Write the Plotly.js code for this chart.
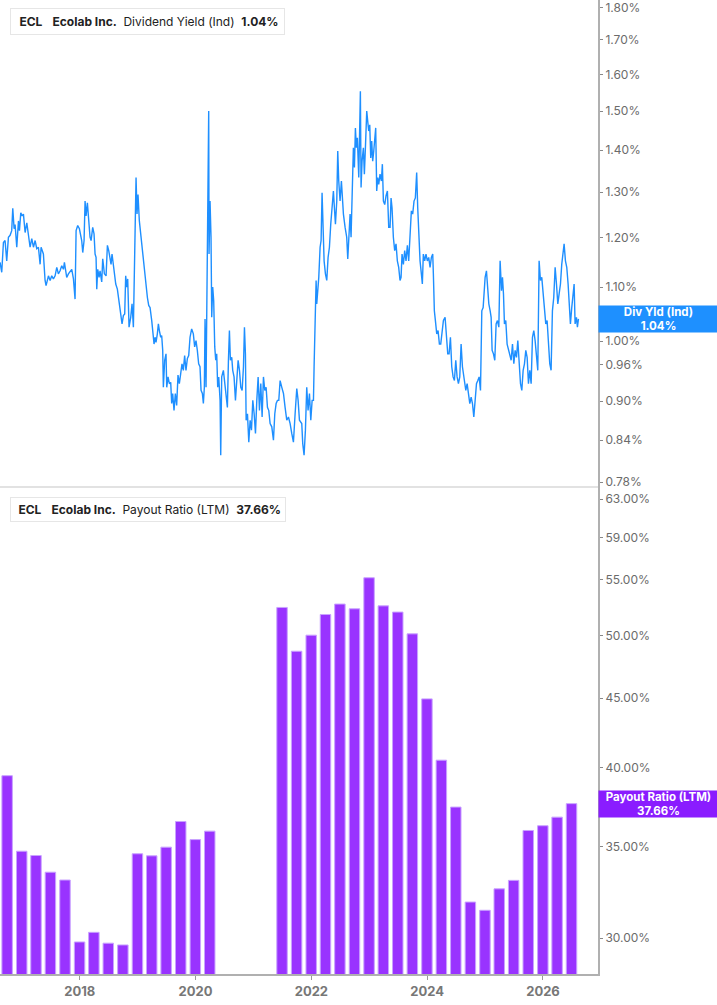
<!DOCTYPE html>
<html>
<head>
<meta charset="utf-8">
<script src="https://cdn.plot.ly/plotly-3.0.1.min.js"></script>
<style>
  html, body { margin: 0; padding: 0; background: #fff; }
  #chart { width: 717px; height: 1005px; }
</style>
</head>
<body>
<div id="chart"></div>
<script>
// ECL dividend yield (indicated), % — time as decimal years
const yieldYears = [
  2016.624, 2016.653, 2016.682, 2016.710, 2016.739, 2016.768, 2016.797, 2016.825, 2016.843, 2016.866,
  2016.883, 2016.912, 2016.941, 2016.958, 2016.981, 2017.004, 2017.027, 2017.056, 2017.085, 2017.113,
  2017.142, 2017.171, 2017.200, 2017.229, 2017.257, 2017.286, 2017.315, 2017.332, 2017.372, 2017.401,
  2017.418, 2017.459, 2017.488, 2017.516, 2017.545, 2017.574, 2017.603, 2017.631, 2017.660, 2017.689,
  2017.718, 2017.735, 2017.758, 2017.775, 2017.804, 2017.833, 2017.862, 2017.891, 2017.919, 2017.937,
  2017.965, 2017.994, 2018.017, 2018.034, 2018.052, 2018.075, 2018.092, 2018.109, 2018.132, 2018.155,
  2018.178, 2018.196, 2018.224, 2018.247, 2018.265, 2018.282, 2018.294, 2018.311, 2018.334, 2018.351,
  2018.380, 2018.397, 2018.426, 2018.455, 2018.478, 2018.501, 2018.524, 2018.541, 2018.558, 2018.581,
  2018.599, 2018.622, 2018.650, 2018.679, 2018.708, 2018.731, 2018.754, 2018.777, 2018.794, 2018.812,
  2018.829, 2018.852, 2018.881, 2018.904, 2018.927, 2018.950, 2018.973, 2018.990, 2019.007, 2019.030,
  2019.053, 2019.076, 2019.100, 2019.123, 2019.140, 2019.169, 2019.192,
  2019.215, 2019.244, 2019.272, 2019.284, 2019.301, 2019.318, 2019.341, 2019.359, 2019.376, 2019.399,
  2019.416, 2019.434, 2019.445, 2019.468, 2019.491, 2019.503, 2019.526, 2019.549, 2019.572, 2019.589,
  2019.606, 2019.629, 2019.652, 2019.675, 2019.698, 2019.721, 2019.744, 2019.767, 2019.790, 2019.813,
  2019.836, 2019.860, 2019.883, 2019.906, 2019.934, 2019.963, 2019.986, 2020.009, 2020.032, 2020.055,
  2020.078, 2020.096, 2020.119, 2020.136, 2020.153, 2020.165, 2020.182, 2020.199, 2020.216, 2020.228,
  2020.234, 2020.251, 2020.268, 2020.280, 2020.297, 2020.314, 2020.332, 2020.349, 2020.366, 2020.383,
  2020.401, 2020.424, 2020.435, 2020.452, 2020.481, 2020.504, 2020.527, 2020.550, 2020.568, 2020.585,
  2020.602, 2020.625, 2020.642, 2020.665, 2020.689, 2020.712, 2020.735, 2020.758, 2020.781, 2020.804,
  2020.827, 2020.844, 2020.861, 2020.873, 2020.896, 2020.919, 2020.942, 2020.965, 2020.988, 2021.011,
  2021.034, 2021.057, 2021.080, 2021.103, 2021.126, 2021.149, 2021.172, 2021.195, 2021.218, 2021.241,
  2021.264, 2021.287, 2021.316, 2021.345, 2021.368, 2021.391, 2021.414, 2021.437, 2021.460, 2021.489,
  2021.518, 2021.546, 2021.575, 2021.604, 2021.633, 2021.661, 2021.690, 2021.719, 2021.748, 2021.771,
  2021.794,
  2021.834, 2021.851, 2021.874, 2021.897, 2021.920, 2021.943, 2021.967, 2021.990, 2022.013, 2022.036,
  2022.047, 2022.064, 2022.082, 2022.093, 2022.110, 2022.128, 2022.151, 2022.168, 2022.185, 2022.203,
  2022.220, 2022.243, 2022.266, 2022.289, 2022.312, 2022.335, 2022.358, 2022.381, 2022.398, 2022.416,
  2022.439, 2022.456, 2022.473, 2022.496, 2022.519, 2022.536, 2022.554, 2022.583, 2022.611, 2022.629,
  2022.652, 2022.669, 2022.686, 2022.703, 2022.726, 2022.744, 2022.761, 2022.778, 2022.795, 2022.819,
  2022.830, 2022.847, 2022.859, 2022.876, 2022.899, 2022.916, 2022.934, 2022.957, 2022.974, 2022.991,
  2023.009, 2023.026, 2023.043, 2023.060, 2023.078, 2023.095, 2023.112, 2023.129, 2023.147, 2023.164,
  2023.187, 2023.210, 2023.227, 2023.245, 2023.268, 2023.291, 2023.314, 2023.337, 2023.360, 2023.377,
  2023.394, 2023.417, 2023.440, 2023.463, 2023.486, 2023.509, 2023.532, 2023.550, 2023.567, 2023.590,
  2023.613, 2023.636, 2023.659, 2023.682, 2023.705, 2023.728, 2023.751, 2023.774, 2023.797, 2023.820,
  2023.838, 2023.855, 2023.878, 2023.901, 2023.918, 2023.935, 2023.958, 2023.981, 2024.004, 2024.028,
  2024.051, 2024.074, 2024.097, 2024.108, 2024.125, 2024.143, 2024.166, 2024.189, 2024.212, 2024.235,
  2024.258, 2024.281,
  2024.310, 2024.338, 2024.356, 2024.379, 2024.402, 2024.425, 2024.448, 2024.471, 2024.494, 2024.517,
  2024.540, 2024.563, 2024.586, 2024.609, 2024.626, 2024.644, 2024.667, 2024.690, 2024.713, 2024.736,
  2024.759, 2024.782, 2024.805, 2024.828, 2024.851, 2024.874, 2024.897, 2024.920, 2024.943, 2024.966,
  2024.983, 2025.000, 2025.023, 2025.041, 2025.064, 2025.087, 2025.104, 2025.121, 2025.144, 2025.167,
  2025.190, 2025.213, 2025.237, 2025.259, 2025.283, 2025.300, 2025.317, 2025.334, 2025.357, 2025.380,
  2025.403, 2025.426, 2025.450, 2025.473, 2025.496, 2025.519, 2025.542, 2025.565, 2025.588, 2025.611,
  2025.634, 2025.657, 2025.680, 2025.703, 2025.726, 2025.749, 2025.772, 2025.795, 2025.818, 2025.841,
  2025.864, 2025.887, 2025.910, 2025.933, 2025.956, 2025.979, 2026.002, 2026.025, 2026.048, 2026.071,
  2026.094, 2026.117, 2026.140, 2026.163, 2026.186, 2026.210, 2026.233, 2026.256, 2026.279, 2026.302,
  2026.324, 2026.348, 2026.365, 2026.388, 2026.411, 2026.434, 2026.457, 2026.474, 2026.497, 2026.520,
  2026.538, 2026.555, 2026.578, 2026.595, 2026.613
];
const yieldPct = [
  1.149, 1.129, 1.190, 1.194, 1.152, 1.201, 1.205, 1.215, 1.264, 1.219,
  1.228, 1.180, 1.236, 1.215, 1.254, 1.247, 1.251, 1.211, 1.232, 1.201,
  1.180, 1.198, 1.180, 1.194, 1.177, 1.180, 1.145, 1.180, 1.166, 1.113,
  1.103, 1.122, 1.113, 1.122, 1.116, 1.122, 1.139, 1.126, 1.132, 1.142,
  1.135, 1.149, 1.126, 1.119, 1.126, 1.132, 1.135, 1.116, 1.077, 1.215,
  1.226, 1.219, 1.208, 1.194, 1.169, 1.194, 1.280, 1.247, 1.276, 1.243,
  1.201, 1.194, 1.222, 1.208, 1.166, 1.159, 1.096, 1.135, 1.119, 1.132,
  1.110, 1.156, 1.126, 1.122, 1.184, 1.173, 1.159, 1.145, 1.166, 1.145,
  1.126, 1.106, 1.096, 1.074, 1.049, 1.031, 1.046, 1.049, 1.122, 1.100,
  1.116, 1.025, 1.043, 1.068, 1.025, 1.194, 1.334, 1.251, 1.295, 1.236,
  1.208, 1.187, 1.156, 1.132, 1.103, 1.080, 1.065,
  1.061, 1.037, 1.013, 0.995, 1.007, 0.998, 1.013, 1.031, 1.019, 1.007,
  1.010, 0.984, 0.922, 0.967, 0.978, 0.922, 0.939, 0.928, 0.930, 0.896,
  0.912, 0.885, 0.912, 0.893, 0.942, 0.928, 0.944, 0.961, 0.950, 0.975,
  0.950, 0.970, 0.975, 1.007, 1.022, 1.013, 0.990, 1.001, 0.984, 0.961,
  0.956, 0.917, 0.912, 0.896, 0.922, 1.040, 0.922, 1.139, 1.201, 1.500,
  1.166, 1.280, 1.201, 1.043, 1.100, 1.074, 0.990, 0.967, 0.978, 0.922,
  0.939, 0.901, 0.818, 0.939, 0.950, 0.928, 0.917, 0.890, 0.967, 1.019,
  0.967, 0.972, 0.950, 0.939, 0.901, 0.933, 0.967, 0.950, 0.922, 0.917,
  0.956, 1.025, 0.978, 0.870, 0.880, 0.837, 0.870, 0.855, 0.901, 0.880,
  0.850, 0.901, 0.939, 0.885, 0.928, 0.875, 0.939, 0.917, 0.922, 0.890,
  0.885, 0.865, 0.860, 0.840, 0.880, 0.896, 0.901, 0.901, 0.933, 0.922,
  0.912, 0.890, 0.870, 0.875, 0.865, 0.850, 0.837, 0.880, 0.920, 0.901,
  0.870,
  0.865, 0.835, 0.818, 0.855, 0.922, 0.885, 0.912, 0.870, 0.901, 0.901,
  0.956, 1.061, 1.113, 1.068, 1.093, 1.119, 1.180, 1.194, 1.299, 1.194,
  1.152, 1.126, 1.113, 1.159, 1.180, 1.229, 1.265, 1.303, 1.265, 1.229,
  1.280, 1.398, 1.326, 1.280, 1.326, 1.287, 1.251, 1.222, 1.201, 1.156,
  1.215, 1.251, 1.201, 1.287, 1.406, 1.358, 1.456, 1.406, 1.431, 1.334,
  1.398, 1.553, 1.311, 1.373, 1.406, 1.342, 1.406, 1.500, 1.473, 1.448,
  1.464, 1.381, 1.423, 1.373, 1.398, 1.423, 1.456, 1.303, 1.334, 1.318,
  1.342, 1.326, 1.366, 1.280, 1.272, 1.292, 1.303, 1.222, 1.222, 1.287,
  1.265, 1.201, 1.173, 1.187, 1.152, 1.139, 1.113, 1.119, 1.166, 1.145,
  1.173, 1.152, 1.184, 1.152, 1.208, 1.258, 1.251, 1.280, 1.287, 1.346,
  1.265, 1.208, 1.152, 1.126, 1.106, 1.166, 1.152, 1.166, 1.152, 1.159,
  1.139, 1.159, 1.166, 1.126, 1.055, 1.037, 1.013, 1.019, 0.995, 0.995,
  1.019, 1.037,
  1.043, 1.007, 0.978, 0.978, 1.007, 0.956, 0.939, 0.933, 0.967, 0.939,
  0.928, 0.939, 0.995, 0.956, 0.944, 0.928, 0.917, 0.928, 0.906, 0.896,
  0.906, 0.896, 0.875, 0.896, 0.928, 0.933, 0.939, 0.917, 1.055, 1.061,
  1.093, 1.119, 1.132, 1.100, 1.068, 1.055, 1.043, 0.984, 0.978, 0.967,
  1.031, 1.037, 1.025, 1.152, 1.093, 1.119, 1.087, 1.031, 1.037, 0.995,
  0.984, 0.978, 0.967, 0.995, 0.961, 0.984, 0.972, 1.001, 0.961, 0.928,
  0.917, 0.950, 0.961, 0.984, 0.972, 0.928, 0.950, 0.928, 1.007, 1.019,
  1.001, 0.972, 0.950, 1.152, 1.113, 1.119, 1.093, 1.068, 1.031, 1.037,
  0.984, 0.961, 0.950, 1.055, 1.080, 1.139, 1.106, 1.068, 1.087, 1.106,
  1.145, 1.173, 1.187, 1.152, 1.139, 1.106, 1.068, 1.031, 1.061, 1.080,
  1.106, 1.031, 1.043, 1.025, 1.040
];

// ECL payout ratio (LTM), % — quarter ends
const payoutDates = [
  '2016-09-30', '2016-12-31', '2017-03-31', '2017-06-30', '2017-09-30', '2017-12-31',
  '2018-03-31', '2018-06-30', '2018-09-30', '2018-12-31', '2019-03-31', '2019-06-30',
  '2019-09-30', '2019-12-31', '2020-03-31',
  '2021-06-30', '2021-09-30', '2021-12-31', '2022-03-31', '2022-06-30', '2022-09-30',
  '2022-12-31', '2023-03-31', '2023-06-30', '2023-09-30', '2023-12-31', '2024-03-31',
  '2024-06-30', '2024-09-30', '2024-12-31', '2025-03-31', '2025-06-30', '2025-09-30',
  '2025-12-31', '2026-03-31', '2026-06-30'
];
const payoutPct = [
  39.48, 34.75, 34.50, 33.54, 33.10, 29.81,
  30.30, 29.75, 29.66, 34.60, 34.48, 34.99,
  36.54, 35.44, 35.95,
  52.46, 48.72, 50.06, 51.84, 52.76, 52.34,
  55.16, 52.60, 52.05, 50.17, 44.95, 40.53,
  37.44, 31.89, 31.45, 32.61, 33.08, 35.99,
  36.28, 36.81, 37.66
];

const yieldTicks = [0.78, 0.84, 0.90, 0.96, 1.00, 1.10, 1.20, 1.30, 1.40, 1.50, 1.60, 1.70, 1.80];
const payoutTicks = [30, 35, 40, 45, 50, 55, 59, 63];
const yearTicks = ['2018', '2020', '2022', '2024', '2026'];

const lastYield = yieldPct[yieldPct.length - 1];
const lastPayout = payoutPct[payoutPct.length - 1];

const BLUE = '#1E8FFF';
const PURPLE = '#9933FF';

function decYearToISO(t) {
  const y = Math.floor(t);
  const a = Date.UTC(y, 0, 1), b = Date.UTC(y + 1, 0, 1);
  return new Date(a + (t - y) * (b - a)).toISOString();
}

// pixel helpers for the boxes in the corner (plot area is 598 x 974)
const PW = 598, PH = 974;
const px = v => v / PW;
const py = v => 1 - v / PH;

const traces = [
  {
    x: yieldYears.map(decYearToISO),
    y: yieldPct,
    type: 'scatter',
    mode: 'lines',
    line: { color: BLUE, width: 1.4 },
    xaxis: 'x',
    yaxis: 'y',
    hoverinfo: 'skip'
  },
  {
    x: payoutDates,
    y: payoutPct,
    type: 'bar',
    width: 66 * 86400000,
    marker: { color: PURPLE, line: { color: '#c9a3ff', width: 1 } },
    xaxis: 'x',
    yaxis: 'y2',
    hoverinfo: 'skip'
  }
];

const axisStyle = {
  side: 'right',
  anchor: 'x',
  type: 'log',
  showline: true,
  linecolor: '#b0b0b0',
  linewidth: 2,
  ticks: 'outside',
  ticklen: 3,
  tickwidth: 1,
  tickcolor: '#888',
  tickfont: { family: 'Inter, sans-serif', size: 12, color: '#6b6b6b' },
  ticklabeloverflow: 'allow',
  showgrid: false,
  zeroline: false,
  fixedrange: true
};

const legendText = (metric, val) =>
  '&nbsp;<b>ECL</b>&nbsp;&nbsp;&nbsp;<b>Ecolab Inc.</b>&nbsp;&nbsp;' + metric + '&nbsp;&nbsp;<b>' + val + '</b>';

const layout = {
  width: 717,
  height: 1005,
  margin: { l: 0, r: 119, t: 0, b: 31 },
  paper_bgcolor: '#fff',
  plot_bgcolor: '#fff',
  showlegend: false,
  font: { family: 'Inter, sans-serif', color: '#222' },
  xaxis: {
    type: 'date',
    anchor: 'y2',
    range: ['2016-08-16', '2026-12-14'],
    showline: true,
    linecolor: '#b0b0b0',
    linewidth: 2,
    ticks: 'outside',
    ticklen: 4,
    tickcolor: '#999',
    tickvals: yearTicks.map(y => y + '-01-01'),
    ticktext: yearTicks,
    tickfont: { family: 'Inter, sans-serif', size: 13, color: '#777', weight: 'bold' },
    showgrid: false,
    zeroline: false,
    fixedrange: true
  },
  yaxis: Object.assign({}, axisStyle, {
    domain: [0.5, 1],
    range: [Math.log10(0.7735), Math.log10(1.824)],
    tickvals: yieldTicks,
    ticktext: yieldTicks.map(v => v.toFixed(2) + '%')
  }),
  yaxis2: Object.assign({}, axisStyle, {
    domain: [0, 0.5],
    range: [Math.log10(28.24), Math.log10(64.3)],
    tickvals: payoutTicks,
    ticktext: payoutTicks.map(v => v.toFixed(2) + '%')
  }),
  shapes: [
    { type: 'line', xref: 'paper', yref: 'paper', x0: 0, x1: 1, y0: 0.5, y1: 0.5,
      line: { color: '#e2e2e2', width: 2 } },
    { type: 'rect', xref: 'paper', yref: 'paper', x0: px(10), x1: px(14), y0: py(8.5), y1: py(33),
      fillcolor: BLUE, line: { width: 0 } },
    { type: 'rect', xref: 'paper', yref: 'paper', x0: px(10), x1: px(14), y0: py(497), y1: py(521),
      fillcolor: '#8A1CFF', line: { width: 0 } }
  ],
  annotations: [
    {
      xref: 'paper', yref: 'paper', x: px(10), y: py(8), xanchor: 'left', yanchor: 'top',
      text: legendText('Dividend Yield (Ind)', lastYield.toFixed(2) + '%'),
      showarrow: false, align: 'left',
      font: { size: 12, color: '#222' },
      bgcolor: '#fff', bordercolor: '#e6e6e6', borderwidth: 1, borderpad: 5
    },
    {
      xref: 'paper', yref: 'paper', x: px(10), y: py(496.5), xanchor: 'left', yanchor: 'top',
      text: legendText('Payout Ratio (LTM)', lastPayout.toFixed(2) + '%'),
      showarrow: false, align: 'left',
      font: { size: 12, color: '#222' },
      bgcolor: '#fff', bordercolor: '#e6e6e6', borderwidth: 1, borderpad: 4
    },
    {
      xref: 'paper', yref: 'y', x: 1, y: Math.log10(lastYield), xanchor: 'left', yanchor: 'middle',
      text: '<b>Div Yld (Ind)</b><br><b>' + lastYield.toFixed(2) + '%</b>',
      showarrow: false, align: 'center',
      font: { size: 11.5, color: '#fff' },
      bgcolor: '#1E90FF', borderpad: 0, width: 119, height: 26
    },
    {
      xref: 'paper', yref: 'y2', x: 1, y: Math.log10(lastPayout), xanchor: 'left', yanchor: 'middle',
      text: '<b>Payout Ratio (LTM)</b><br><b>' + lastPayout.toFixed(2) + '%</b>',
      showarrow: false, align: 'center',
      font: { size: 11.5, color: '#fff' },
      bgcolor: '#8A1CFF', borderpad: 0, width: 119, height: 26
    }
  ]
};

Plotly.newPlot('chart', traces, layout, { displayModeBar: false, staticPlot: true });
</script>
</body>
</html>
